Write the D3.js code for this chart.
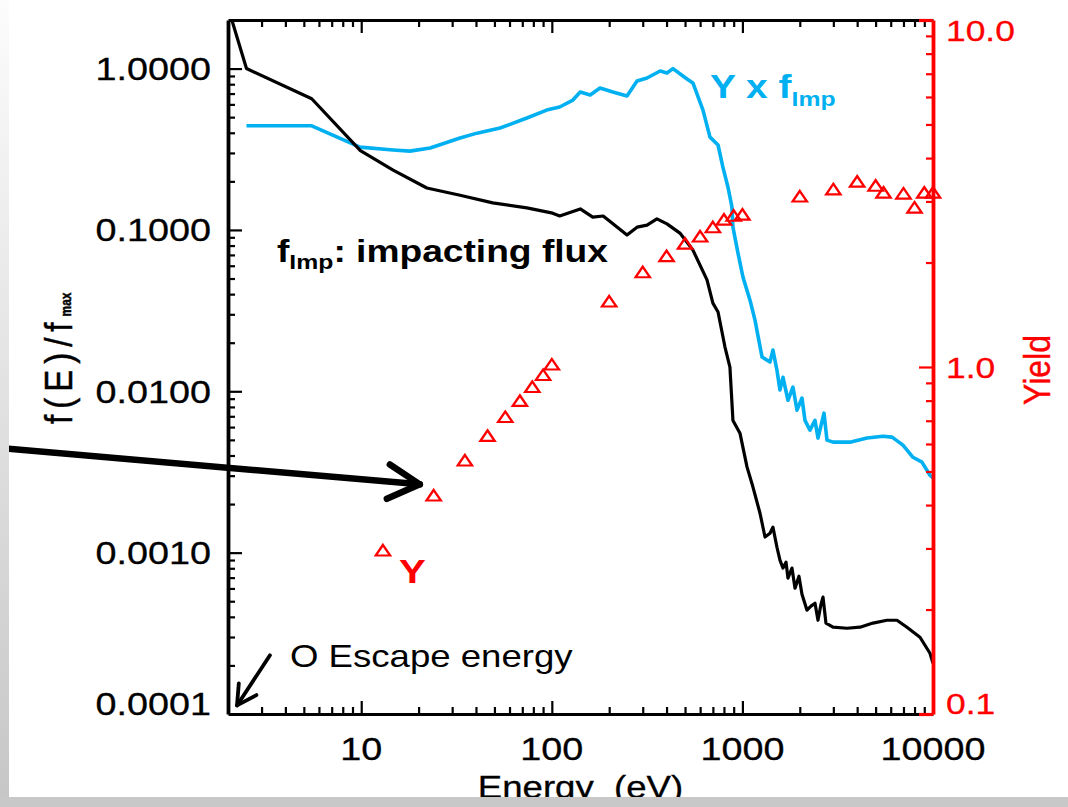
<!DOCTYPE html>
<html>
<head>
<meta charset="utf-8">
<script src="https://cdn.jsdelivr.net/npm/d3@7"></script>
<style>
  html, body { margin: 0; padding: 0; background: #ffffff; }
  svg { display: block; }
  text { font-family: "Liberation Sans", Arial, Helvetica, sans-serif; }
</style>
</head>
<body>
<svg id="chart" width="1068" height="807"></svg>
<script>
// Impacting flux f_Imp(E), normalised to its maximum: [energy eV, f/fmax]
const fluxImpacting = [
  [2.0, 2.4], [2.5, 1.0], [5.5, 0.65], [9.9, 0.31], [14.7, 0.235], [22.1, 0.182],
  [33, 0.164], [49, 0.147], [74, 0.137], [101, 0.127], [110, 0.122], [141, 0.135],
  [164, 0.120], [186, 0.122], [248, 0.093], [280, 0.104], [316, 0.107], [356, 0.117],
  [402, 0.109], [470, 0.0956], [550, 0.075], [652, 0.049], [700, 0.0352], [745, 0.031],
  [810, 0.0188], [860, 0.0141], [892, 0.0066], [971, 0.0055], [1057, 0.0034],
  [1136, 0.00255], [1236, 0.00176], [1314, 0.00125], [1396, 0.00132], [1446, 0.00144],
  [1518, 0.00108], [1574, 0.000898], [1633, 0.000802], [1694, 0.000872], [1734, 0.000695],
  [1820, 0.000802], [1888, 0.000602], [1980, 0.000714], [2054, 0.000552], [2182, 0.00044],
  [2290, 0.000466], [2404, 0.000486], [2492, 0.000381], [2584, 0.000479], [2648, 0.00053],
  [2744, 0.000366], [2988, 0.000345], [3540, 0.00034], [4140, 0.000345], [4842, 0.000366],
  [5732, 0.000381], [6472, 0.000381], [7300, 0.000345], [8546, 0.000299], [9640, 0.000238],
  [10000, 0.000206]
];

// Yield-weighted flux Y x f_Imp, normalised: [energy eV, value]
const yieldTimesFlux = [
  [2.5, 0.442], [5.5, 0.442], [9.85, 0.326], [14.7, 0.313], [18, 0.308], [23, 0.322],
  [33, 0.371], [40.5, 0.398], [53.5, 0.428], [74, 0.494], [94, 0.553], [110, 0.578],
  [129, 0.638], [141, 0.716], [159, 0.686], [179, 0.758], [209, 0.716], [248, 0.676],
  [280, 0.838], [316, 0.874], [370, 0.966], [402, 0.938], [432, 1.0], [512, 0.861],
  [550, 0.814], [621, 0.553], [676, 0.376], [745, 0.336], [790, 0.245], [840, 0.184],
  [881, 0.139], [892, 0.104], [948, 0.0718], [1007, 0.051], [1096, 0.0367], [1164, 0.0276],
  [1268, 0.0163], [1396, 0.0152], [1446, 0.018], [1518, 0.0135], [1574, 0.0102],
  [1633, 0.0122], [1734, 0.0088], [1842, 0.0106], [1934, 0.00764], [2054, 0.00908],
  [2130, 0.0066], [2262, 0.00574], [2404, 0.0066], [2492, 0.00513], [2680, 0.00732],
  [2778, 0.00498], [2988, 0.00484], [3668, 0.00484], [4506, 0.00513], [5460, 0.00527],
  [6096, 0.0052], [6956, 0.00464], [7852, 0.0039], [8750, 0.00364], [9640, 0.00302],
  [10000, 0.0029]
];

// Sputtering yield Y(E): [energy eV, yield]
const yieldPoints = [
  [13, 0.295], [24, 0.425], [35, 0.536], [46, 0.631], [57, 0.715], [68, 0.796],
  [79, 0.873], [90, 0.945], [100, 1.013], [200, 1.54], [300, 1.87], [400, 2.08],
  [500, 2.26], [600, 2.37], [700, 2.52], [800, 2.65], [900, 2.72], [1000, 2.74],
  [2000, 3.09], [3000, 3.24], [4000, 3.41], [5000, 3.32], [5500, 3.17], [7000, 3.15],
  [8000, 2.87], [9000, 3.17], [10000, 3.17]
];

// Tick labels
const xTickValues = [10, 100, 1000, 10000];
const xTickLabels = ["10", "100", "1000", "10000"];
const leftTickValues = [1e-4, 1e-3, 1e-2, 1e-1, 1];
const leftTickLabels = ["0.0001", "0.0010", "0.0100", "0.1000", "1.0000"];
const rightTickValues = [0.1, 1, 10];
const rightTickLabels = ["0.1", "1.0", "10.0"];

// Annotation arrows in data coordinates (energy, f/fmax): [tail, tip]
const pointerArrow = [[0.127, 0.00445], [20.3, 0.00265]];
const escapeArrow = [[3.32, 0.000231], [2.23, 0.000113]];

const W = 1068, H = 807;
const box = { left: 228, right: 933, top: 20, bottom: 714 };
const SX = 1.18;               // horizontal text stretch
const BLACK = "#000000", RED = "#ff0000", CYAN = "#00b0f0";

const svg = d3.select("#chart");
const defs = svg.append("defs");

svg.append("rect").attr("width", W).attr("height", H).attr("fill", "#ffffff");

const x = d3.scaleLog().domain([2, 10000]).range([box.left, box.right]);
const yL = d3.scaleLog().domain([1e-4, 2]).range([box.bottom, box.top]);
const yR = d3.scaleLog().domain([0.1, 10]).range([box.bottom, box.top]);

defs.append("clipPath").attr("id", "plotClip")
  .append("rect")
  .attr("x", box.left).attr("y", box.top)
  .attr("width", box.right - box.left).attr("height", box.bottom - box.top);

const line = d3.line().x(d => x(d[0])).y(d => yL(d[1]));

const curves = svg.append("g").attr("clip-path", "url(#plotClip)");
curves.append("path").datum(yieldTimesFlux)
  .attr("d", line).attr("fill", "none").attr("stroke", CYAN)
  .attr("stroke-width", 3.6).attr("stroke-linejoin", "round");
curves.append("path").datum(fluxImpacting)
  .attr("d", line).attr("fill", "none").attr("stroke", BLACK)
  .attr("stroke-width", 3.2).attr("stroke-linejoin", "round");

// Yield triangles
const tri = d3.symbol(d3.symbolTriangle, 64);
svg.append("g").selectAll("path").data(yieldPoints).join("path")
  .attr("d", tri)
  .attr("transform", d => `translate(${x(d[0])},${yR(d[1]) + 1}) scale(${SX},1)`)
  .attr("fill", "none").attr("stroke", RED).attr("stroke-width", 2.1);

// ---- axes ----
const isMajor = v => Math.abs(Math.log10(v) - Math.round(Math.log10(v))) < 1e-9;
const inside = (scale) => v => { const p = scale(v); const r = scale.range(); return p > Math.min(...r) + 0.5 && p < Math.max(...r) - 0.5; };

const xTicks = x.ticks().filter(inside(x));

function styleAxis(g, color, majorLen, minorLen, sign, attr, lineW) {
  g.select(".domain").attr("stroke", color).attr("stroke-width", lineW);
  g.selectAll(".tick line")
    .attr("stroke", color).attr("stroke-width", 2.2)
    .attr(attr, d => sign * (isMajor(d) ? majorLen : minorLen));
}

// bottom (ticks point up into the plot)
const gBottom = svg.append("g").attr("transform", `translate(0,${box.bottom})`)
  .call(d3.axisTop(x).tickValues(xTicks).tickFormat("").tickSizeOuter(0));
styleAxis(gBottom, BLACK, 13, 7, -1, "y2", 3.2);

// top (ticks point down)
const gTop = svg.append("g").attr("transform", `translate(0,${box.top})`)
  .call(d3.axisBottom(x).tickValues(xTicks).tickFormat("").tickSizeOuter(0));
styleAxis(gTop, BLACK, 13, 7, 1, "y2", 3.2);

// left (ticks point right)
const leftTicks = yL.ticks().filter(inside(yL));
const gLeft = svg.append("g").attr("transform", `translate(${box.left},0)`)
  .call(d3.axisRight(yL).tickValues(leftTicks).tickFormat("").tickSizeOuter(0));
styleAxis(gLeft, BLACK, 14, 7, 1, "x2", 3.8);

// right, red (ticks point left)
const gRight = svg.append("g").attr("transform", `translate(${box.right},0)`)
  .call(d3.axisLeft(yR).tickValues(yR.ticks()).tickFormat("").tickSizeOuter(0));
styleAxis(gRight, RED, 14, 7, -1, "x2", 3.8);
gRight.selectAll(".tick line").filter(d => d === 0.1 || d === 10).attr("stroke-width", 3.2);

// ---- labels ----
function sText(parent, px, py, str, opts) {
  const t = parent.append("text")
    .attr("transform", `translate(${px},${py}) scale(${SX},1)` + (opts.rotate ? ` rotate(${opts.rotate})` : ""))
    .attr("text-anchor", opts.anchor || "start")
    .attr("font-size", opts.size)
    .attr("font-weight", opts.weight || "normal")
    .attr("fill", opts.color || BLACK);
  if (opts.halo) t.attr("stroke", opts.color || BLACK).attr("stroke-width", opts.halo);
  if (opts.dy) t.attr("dy", opts.dy);
  if (str !== null) t.text(str);
  return t;
}

const labels = svg.append("g");
xTickValues.forEach((v, i) =>
  sText(labels, x(v), 760, xTickLabels[i], { anchor: "middle", size: 32, halo: 0.3 }));
leftTickValues.forEach((v, i) =>
  sText(labels, 211, Math.min(yL(v), box.bottom - 11), leftTickLabels[i], { anchor: "end", size: 32, dy: "0.36em", halo: 0.3 }));
rightTickValues.forEach((v, i) =>
  sText(labels, 946, Math.max(box.top + 10, Math.min(yR(v), box.bottom - 11)), rightTickLabels[i], { size: 30, color: RED, dy: "0.36em", halo: 0.3 }));

// axis titles
const xt = sText(labels, (box.left + box.right) / 2, 798, "Energy  (eV)", { anchor: "middle", size: 31, halo: 0.3 });
xt.style("white-space", "pre");

sText(labels, 1050, 370, "Yield", { anchor: "middle", size: 32, color: RED, rotate: -90, halo: 0.4 });

const yt = sText(labels, 72, 424, null, { size: 33, rotate: -90, halo: 0.4 });
yt.append("tspan").attr("letter-spacing", "6px").text("f(E)/f");
yt.append("tspan").attr("font-size", 12).attr("font-weight", "bold").attr("dy", "-1").text("max");

// ---- annotations ----
const ann = svg.append("g");
const fl = sText(ann, 277, 262, null, { size: 31.5, weight: "bold" });
fl.append("tspan").text("f");
fl.append("tspan").attr("font-size", 21).attr("dy", 7).text("Imp");
fl.append("tspan").attr("dy", -7).text(": impacting flux");

const yf = sText(ann, 710, 98, null, { size: 33, weight: "bold", color: CYAN });
yf.append("tspan").text("Y x f");
yf.append("tspan").attr("font-size", 21).attr("dy", 8).text("Imp");

sText(ann, 399, 583, "Y", { size: 34, weight: "bold", color: RED });
sText(ann, 290, 667, "O Escape energy", { size: 31 });

// arrows
function arrow(pts, width, head) {
  const [t0, t1] = pts.map(p => [x(p[0]), yL(p[1])]);
  const ang = Math.atan2(t1[1] - t0[1], t1[0] - t0[0]);
  const a1 = ang + Math.PI - 0.5, a2 = ang + Math.PI + 0.5;
  const g = ann.append("g").attr("stroke", BLACK).attr("fill", "none")
    .attr("stroke-width", width).attr("stroke-linecap", "round").attr("stroke-linejoin", "round");
  g.append("path").attr("d", d3.line()([t0, t1]));
  g.append("path").attr("d", d3.line()([
    [t1[0] + head * Math.cos(a1), t1[1] + head * Math.sin(a1)], t1,
    [t1[0] + head * Math.cos(a2), t1[1] + head * Math.sin(a2)]
  ]));
}
arrow(pointerArrow, 6.5, 36);
arrow(escapeArrow, 3.8, 22);

// page frame: shaded left edge and bottom band
const grad = defs.append("linearGradient").attr("id", "edgeShade")
  .attr("x1", 0).attr("y1", 0).attr("x2", 0).attr("y2", 1);
grad.append("stop").attr("offset", "0%").attr("stop-color", "#fcfcfc");
grad.append("stop").attr("offset", "100%").attr("stop-color", "#c6c6c6");
svg.append("rect").attr("x", 0).attr("y", 0).attr("width", 9).attr("height", H).attr("fill", "url(#edgeShade)");
svg.append("rect").attr("x", 0).attr("y", 797).attr("width", W).attr("height", H - 797).attr("fill", "#c8c8c8");
</script>
</body>
</html>
